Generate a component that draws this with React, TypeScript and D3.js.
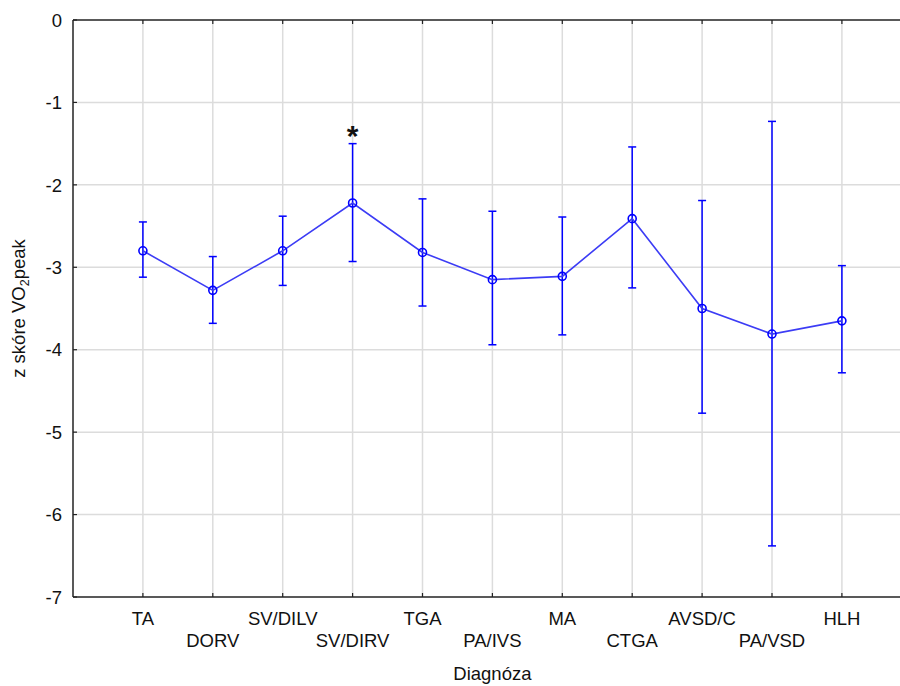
import React from "react";
import * as d3 from "d3";

// Diagnosis groups and z-score summary (mean with interval bounds)
const categories = ["TA", "DORV", "SV/DILV", "SV/DIRV", "TGA", "PA/IVS", "MA", "CTGA", "AVSD/C", "PA/VSD", "HLH"];
const means = [-2.8, -3.28, -2.8, -2.22, -2.82, -3.15, -3.11, -2.41, -3.5, -3.81, -3.65];
const upper = [-2.45, -2.87, -2.38, -1.5, -2.17, -2.32, -2.39, -1.54, -2.19, -1.23, -2.98];
const lower = [-3.12, -3.68, -3.22, -2.93, -3.47, -3.94, -3.82, -3.25, -4.77, -6.38, -4.28];
const significant = ["SV/DIRV"];
const yTicks = [0, -1, -2, -3, -4, -5, -6, -7];

const W = 900;
const H = 686;
const left = 73;
const top = 20;
const bottom = 597;
const step = 69.9;
const right = left + step * 12;
const FONT = "'Liberation Sans', Arial, sans-serif";
const FS = 18.5;

export default function App() {
  const x = d3.scaleLinear().domain([0, 12]).range([left, right]);
  const y = d3.scaleLinear().domain([-7, 0]).range([bottom, top]);
  const line = d3
    .line<number>()
    .x((_, i) => x(i + 1))
    .y((d) => y(d));

  return (
    <svg
      width={W}
      height={H}
      style={{ position: "absolute", left: 0, top: 0, background: "#fff" }}
      fontFamily={FONT}
    >
      {/* grid */}
      {yTicks.slice(1, -1).map((t) => (
        <line key={"h" + t} x1={left} x2={right} y1={y(t)} y2={y(t)} stroke="#dcdcdc" strokeWidth={1.5} />
      ))}
      {categories.map((c, i) => (
        <line key={"v" + c} x1={x(i + 1)} x2={x(i + 1)} y1={top} y2={bottom} stroke="#dcdcdc" strokeWidth={1.5} />
      ))}

      {/* frame */}
      <line x1={left} x2={right} y1={top} y2={top} stroke="#222" strokeWidth={1.5} />
      <line x1={left} x2={right} y1={bottom} y2={bottom} stroke="#222" strokeWidth={1.5} />
      <line x1={left} x2={left} y1={top} y2={bottom} stroke="#222" strokeWidth={1.5} />

      {/* ticks */}
      {categories.map((c, i) => (
        <g key={"t" + c}>
          <line x1={x(i + 1)} x2={x(i + 1)} y1={top} y2={top + 4} stroke="#222" strokeWidth={1.2} />
          <line x1={x(i + 1)} x2={x(i + 1)} y1={bottom} y2={bottom - 4} stroke="#222" strokeWidth={1.2} />
        </g>
      ))}
      {yTicks.map((t) => (
        <g key={"yt" + t}>
          <line x1={left} x2={left + 4} y1={y(t)} y2={y(t)} stroke="#222" strokeWidth={1.2} />
          <text x={62} y={y(t)} dy="0.36em" textAnchor="end" fontSize={FS} fill="#111">
            {t === 0 ? "0" : "-" + Math.abs(t)}
          </text>
        </g>
      ))}

      {/* category labels, staggered in two rows */}
      {categories.map((c, i) => (
        <text
          key={"l" + c}
          x={x(i + 1)}
          y={i % 2 === 0 ? 625 : 647}
          textAnchor="middle"
          fontSize={FS}
          fill="#111"
        >
          {c}
        </text>
      ))}
      <text x={x(6)} y={680} textAnchor="middle" fontSize={FS} fill="#111">
        Diagnóza
      </text>
      <text transform={`translate(25,${(top + bottom) / 2}) rotate(-90)`} textAnchor="middle" fontSize={FS} fill="#111">
        z skóre VO<tspan fontSize={12.5} dy={4}>2</tspan>
        <tspan dy={-4}>peak</tspan>
      </text>

      {/* error bars */}
      {categories.map((c, i) => (
        <g key={"e" + c} stroke="#0000ff" strokeWidth={1.5}>
          <line x1={x(i + 1)} x2={x(i + 1)} y1={y(upper[i])} y2={y(lower[i])} />
          <line x1={x(i + 1) - 4} x2={x(i + 1) + 4} y1={y(upper[i])} y2={y(upper[i])} />
          <line x1={x(i + 1) - 4} x2={x(i + 1) + 4} y1={y(lower[i])} y2={y(lower[i])} />
        </g>
      ))}

      {/* mean line and markers */}
      <path d={line(means) ?? ""} fill="none" stroke="#3c3cf5" strokeWidth={1.6} />
      {means.map((m, i) => (
        <circle key={"c" + i} cx={x(i + 1)} cy={y(m)} r={4} fill="none" stroke="#0000ff" strokeWidth={1.6} />
      ))}

      {/* significance marker */}
      {categories.map((c, i) =>
        significant.includes(c) ? (
          <text key={"s" + c} x={x(i + 1)} y={y(upper[i]) + 2} textAnchor="middle" fontSize={30} fontWeight="bold" fill="#111">
            *
          </text>
        ) : null
      )}
    </svg>
  );
}
